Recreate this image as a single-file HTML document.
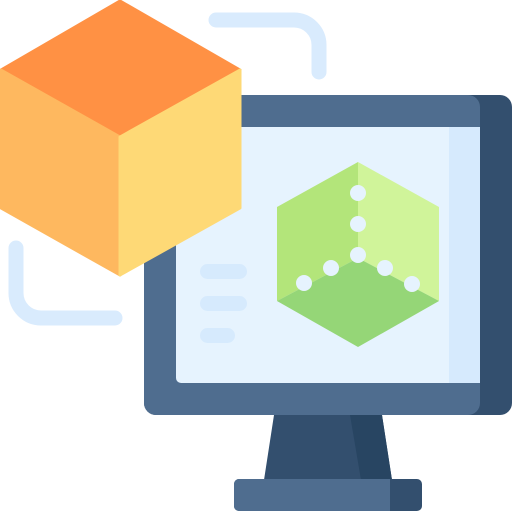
<!DOCTYPE html>
<html><head><style>html,body{margin:0;padding:0;background:#fff}svg{display:block}</style></head>
<body>
<svg width="512" height="512" viewBox="0 0 512 512" xmlns="http://www.w3.org/2000/svg">
<g fill="none" stroke="#d9ebfd" stroke-width="15" stroke-linecap="round">
<path d="M216 20 H294 A25 25 0 0 1 319 45 V72"/>
<path d="M16 248 V293 A25 25 0 0 0 41 318 H115"/>
</g>
<rect x="144" y="95" width="368" height="320" rx="12" fill="#334f6e"/>
<rect x="144" y="95" width="336" height="320" rx="12" fill="#4f6d8f"/>
<rect x="176" y="127" width="304" height="256" rx="5" fill="#e6f3fe"/>
<rect x="449" y="127" width="31" height="256" fill="#d6eafd"/>
<path d="M274 415 H382 L392 480 H264 Z" fill="#334f6e"/>
<path d="M350 415 H382 L392 480 H361 Z" fill="#284562"/>
<rect x="234" y="479" width="188" height="32" rx="5" fill="#334f6e"/>
<path d="M239 479 H390 V511 H239 A5 5 0 0 1 234 506 V484 A5 5 0 0 1 239 479Z" fill="#4f6d8f"/>
<g fill="#d6eafd">
<rect x="200" y="264" width="47" height="15" rx="7.5"/>
<rect x="200" y="296" width="47" height="15" rx="7.5"/>
<rect x="200" y="328" width="35" height="15" rx="7.5"/>
</g>
<path d="M358 162 L277 207 V301 L358 258 Z" fill="#b3e57a"/>
<path d="M358 162 L439 207 V301 L358 258 Z" fill="#d0f49a"/>
<path d="M277 301 L358 258 L439 301 L358 347 Z" fill="#95d677"/>
<g fill="#e6f3fe">
<circle cx="358" cy="193" r="8"/><circle cx="358" cy="224" r="8"/><circle cx="358" cy="255" r="8"/>
<circle cx="331" cy="268" r="8"/><circle cx="304" cy="283" r="8"/>
<circle cx="385" cy="268" r="8"/><circle cx="412" cy="284" r="8"/>
</g>
<path d="M120 1 L240 70 L120 137 L1 70 Z" fill="#ff9144" stroke="#ff9144" stroke-width="3" stroke-linejoin="round"/>
<path d="M1 70 L120 137 V275 L1 208 Z" fill="#feb85f" stroke="#feb85f" stroke-width="3" stroke-linejoin="round"/>
<path d="M240 70 L120 137 V275 L240 208 Z" fill="#fed976" stroke="#fed976" stroke-width="3" stroke-linejoin="round"/>
</svg>
</body></html>
